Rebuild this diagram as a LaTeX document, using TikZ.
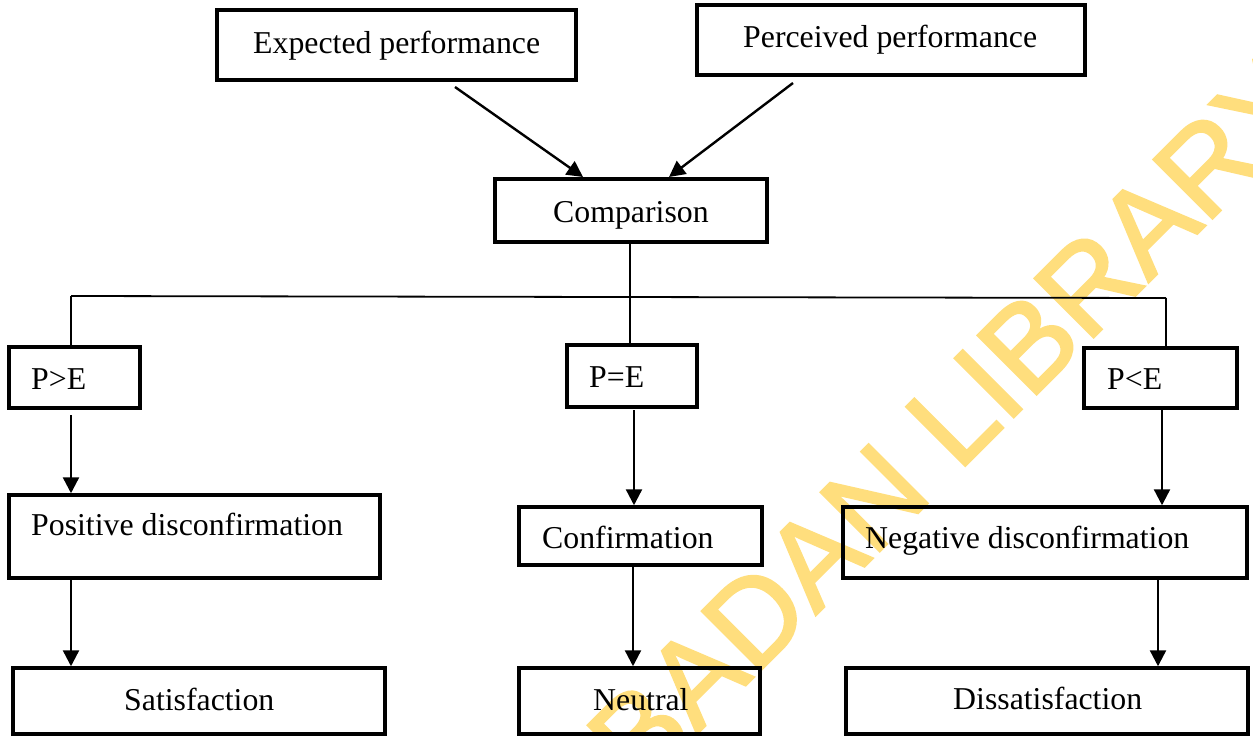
\documentclass[tikz,border=0pt]{standalone}
\usepackage{fontspec}
\setmainfont{Liberation Serif}
\newfontfamily\wmfont[FakeBold=2]{Liberation Sans}
\usetikzlibrary{arrows.meta}
\definecolor{wmyellow}{RGB}{255,222,125}
\begin{document}
\begin{tikzpicture}[x=1pt,y=-1pt,
  box/.style={draw, line width=3.5pt, inner sep=0pt},
  lbl/.style={anchor=base west, inner sep=0pt, font=\fontsize{31.8}{38}\selectfont},
  arr/.style={line width=2.4pt, -{Triangle[length=16pt,width=16pt]}},
  thinline/.style={line width=1.8pt}]
\useasboundingbox (0,0) rectangle (1253,736);
% watermark
\begin{scope}
\clip (0,0) rectangle (1253,736);
\node[rotate=45, text=wmyellow, font=\wmfont\fontsize{121}{121}\selectfont, inner sep=0pt] (wm) at (940,432) {IBADAN LIBRARY};
\end{scope}
% boxes
\node[box, minimum width=359pt, minimum height=70pt] (exp) at (396.5,45) {};
\node[box, minimum width=388pt, minimum height=70pt] (per) at (891,40) {};
\node[box, minimum width=272pt, minimum height=63pt] (cmp) at (631,210.5) {};
\node[box, minimum width=131pt, minimum height=61pt] (pg) at (74.5,377.5) {};
\node[box, minimum width=130pt, minimum height=62pt] (pe) at (632,376) {};
\node[box, minimum width=153pt, minimum height=60pt] (pl) at (1160.5,378) {};
\node[box, minimum width=371pt, minimum height=83pt] (pos) at (194.5,536.5) {};
\node[box, minimum width=243pt, minimum height=58pt] (conf) at (640.5,536) {};
\node[box, minimum width=404pt, minimum height=71pt] (neg) at (1045,542.5) {};
\node[box, minimum width=372pt, minimum height=66pt] (sat) at (199,701) {};
\node[box, minimum width=241pt, minimum height=66pt] (neu) at (639.5,701) {};
\node[box, minimum width=402pt, minimum height=66pt] (dis) at (1047,701) {};
% texts
\node[lbl] (texp) at (253,53) {Expected performance};
\node[lbl] (tper) at (743,47) {Perceived performance};
\node[lbl] (tcmp) at (553,222) {Comparison};
\node[lbl] (tpg) at (31,389) {P>E};
\node[lbl] (tpe) at (589,387) {P=E};
\node[lbl] (tpl) at (1107,389) {P<E};
\node[lbl] (tpos) at (31,535) {Positive disconfirmation};
\node[lbl] (tconf) at (542,548) {Confirmation};
\node[lbl] (tneg) at (865,548) {Negative disconfirmation};
\node[lbl] (tsat) at (124,710) {Satisfaction};
\node[lbl] (tneu) at (593,710) {Neutral};
\node[lbl] (tdis) at (953,709) {Dissatisfaction};
% top arrows
\coordinate (e1) at (455,87);
\coordinate (c1) at (583,177);
\coordinate (p1) at (793,83);
\coordinate (c2) at (669,177);
\draw[arr] (e1) -- (c1);
\draw[arr] (p1) -- (c2);
% tree
\coordinate (hl) at (71,296);
\coordinate (hr) at (1166,298);
\coordinate (hm) at (630,297);
\draw[thinline] (hl) -- (hr);
\draw[thinline] (hl) -- (hl |- pg.north);
\draw[thinline] (hr) -- (hr |- pl.north);
\draw[thinline] (cmp.south -| hm) -- (hm |- pe.north);
% vertical arrows
\coordinate (a1) at (71,415);
\coordinate (a2) at (634,410);
\coordinate (a3) at (1162,410);
\draw[arr] (a1) -- (a1 |- pos.north);
\draw[arr] (a2) -- (a2 |- conf.north);
\draw[arr] (a3) -- (a3 |- neg.north);
\coordinate (b1) at (71,578);
\coordinate (b2) at (633,565);
\coordinate (b3) at (1158,578);
\draw[arr] (b1) -- (b1 |- sat.north);
\draw[arr] (b2) -- (b2 |- neu.north);
\draw[arr] (b3) -- (b3 |- dis.north);
\end{tikzpicture}
\end{document}
